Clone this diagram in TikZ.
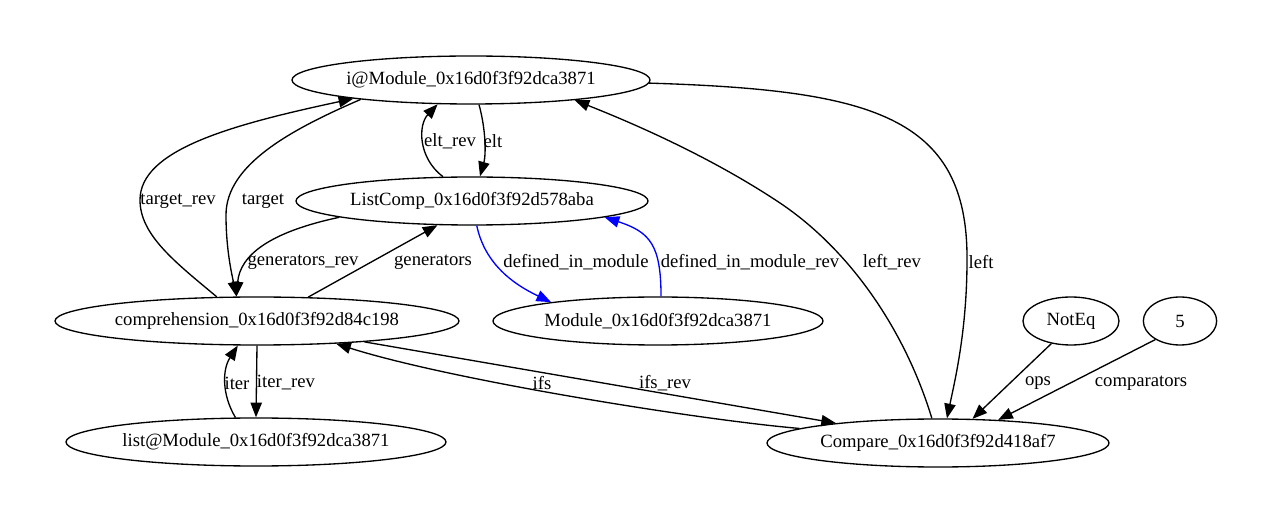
\documentclass[tikz,border=0pt]{standalone}
\usepackage{fontspec}
\setmainfont{Liberation Serif}
\usepackage{tikz}
\usetikzlibrary{positioning,shapes,arrows.meta}

\begin{document}
\begin{tikzpicture}[x=0.75pt, y=-0.75pt,
    every node/.style={font=\fontsize{14}{16}\selectfont},
    ast/.style={draw, ellipse, line width=1pt, inner sep=0pt, minimum height=36pt},
    edge/.style={line width=1pt, -{Triangle[length=11pt, width=8.5pt]}},
    lbl/.style={inner sep=0pt}]

    \useasboundingbox (0,0) rectangle (1273,523);

    % AST nodes
    \node[ast, minimum width=268.5pt] (imod) at (471,80) {i@Module\_0x16d0f3f92dca3871};
    \node[ast, minimum width=264pt] (lcomp) at (472,201) {ListComp\_0x16d0f3f92d578aba};
    \node[ast, minimum width=303pt] (compr) at (257,321) {comprehension\_0x16d0f3f92d84c198};
    \node[ast, minimum width=247.5pt] (mod) at (658,321) {Module\_0x16d0f3f92dca3871};
    \node[ast, minimum width=72pt] (noteq) at (1071,321) {NotEq};
    \node[ast, minimum width=55pt] (five) at (1180,321) {5};
    \node[ast, minimum width=285pt] (lmod) at (256,442) {list@Module\_0x16d0f3f92dca3871};
    \node[ast, minimum width=256.5pt] (cmp) at (938,443) {Compare\_0x16d0f3f92d418af7};

    % edge labels
    \foreach \name/\px/\py/\txt in {
        lelt_rev/450/141/elt\_rev, lelt/493/141/elt,
        ltarget_rev/178/201/target\_rev, ltarget/263/201/target,
        lgen_rev/303/262/generators\_rev, lgen/433/262/generators,
        ldim/576/262/defined\_in\_module, ldim_rev/750/262/defined\_in\_module\_rev,
        lleft_rev/892/262/left\_rev, lleft/981/262/left,
        liter/237/383/iter, liter_rev/286/383/iter\_rev,
        lifs/542/383/ifs, lifs_rev/665/383/ifs\_rev,
        lops/1038/383/ops, lcomparators/1141/383/comparators} {
        \node[lbl] (\name) at (\px,\py) {\txt};
    }

    % edges
    \draw[edge] (lcomp.140) .. controls (418,158) and (418,125) .. (imod.216);
    \draw[edge] (imod.288) .. controls (486,130) and (486,155) .. (lcomp.72);
    \draw[edge] (compr.149) .. controls (175,262) and (140,235) .. (140,200)
        .. controls (140,150) and (230,125) .. (imod.189);
    \draw[edge] (imod.190) .. controls (290,130) and (226,165) .. (226,215)
        .. controls (226,250) and (232,275) .. (compr.130);
    \draw[edge] (lcomp.187) .. controls (270,232) and (240,255) .. (compr.130);
    \draw[edge] (compr.25) -- (lcomp.215);
    \draw[edge, blue] (lcomp.281) .. controls (485,265) and (515,285) .. (mod.170);
    \draw[edge, blue] (mod.83) .. controls (661,245) and (650,232) .. (lcomp.353);
    \draw[edge] (imod.359) .. controls (870,90) and (968,115) .. (967,260)
        .. controls (967,330) and (955,380) .. (cmp.70);
    \draw[edge] (cmp.104) .. controls (905,330) and (850,250) .. (780,203)
        .. controls (720,163) and (650,130) .. (imod.349);
    \draw[edge] (compr.349) -- (cmp.169);
    \draw[edge] (cmp.174) .. controls (700,420) and (450,380) .. (compr.344);
    \draw[edge] (lmod.130) .. controls (222,395) and (222,370) .. (compr.232);
    \draw[edge] (compr.south) -- (lmod.north);
    \draw[edge] (noteq.229) -- (cmp.35);
    \draw[edge] (five.217) -- (cmp.21);

\end{tikzpicture}
\end{document}
